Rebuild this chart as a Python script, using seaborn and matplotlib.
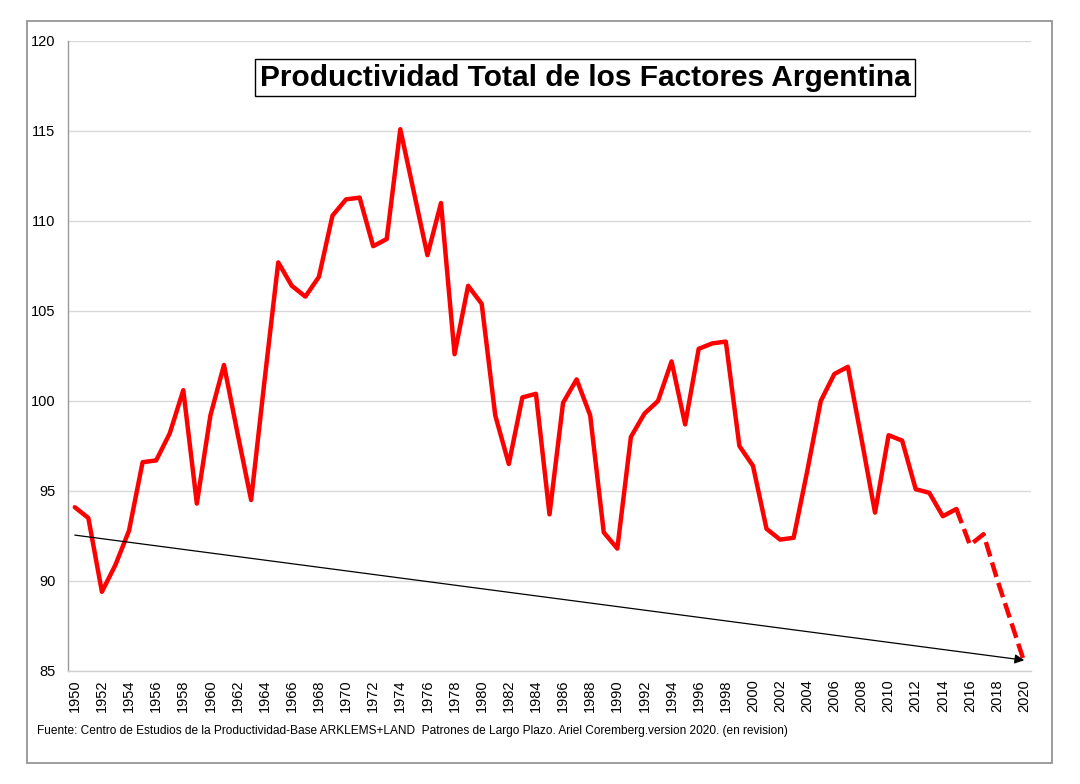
import matplotlib
matplotlib.use("Agg")
import matplotlib.pyplot as plt
from matplotlib.patches import Rectangle
import seaborn as sns
import pandas as pd

# ---- data ----
years_solid = list(range(1950, 2016))
ptf_solid = [94.1, 93.5, 89.4, 90.9, 92.8, 96.6, 96.7, 98.2, 100.6, 94.3,
             99.2, 102.0, 98.2, 94.5, 101.2, 107.7, 106.4, 105.8, 106.9, 110.3,
             111.2, 111.3, 108.6, 109.0, 115.1, 111.6, 108.1, 111.0, 102.6, 106.4,
             105.4, 99.2, 96.5, 100.2, 100.4, 93.7, 99.9, 101.2, 99.2, 92.7,
             91.8, 98.0, 99.3, 100.0, 102.2, 98.7, 102.9, 103.2, 103.3, 97.5,
             96.4, 92.9, 92.3, 92.4, 96.1, 100.0, 101.5, 101.9, 97.9, 93.8,
             98.1, 97.8, 95.1, 94.9, 93.6, 94.0]
years_proj = [2015, 2016, 2017, 2018, 2019, 2020]
ptf_proj = [94.0, 92.0, 92.6, 90.1, 87.8, 85.5]
trend_years = [1950, 2020]
trend_vals = [92.55, 85.6]
ytick_vals = [85, 90, 95, 100, 105, 110, 115, 120]
xtick_vals = list(range(1950, 2021, 2))
title = "Productividad Total de los Factores Argentina"
footer = ("Fuente: Centro de Estudios de la Productividad-Base ARKLEMS+LAND  Patrones de Largo Plazo. "
          "Ariel Coremberg.version 2020. (en revision)")

df_solid = pd.DataFrame({"year": years_solid, "ptf": ptf_solid})
df_proj = pd.DataFrame({"year": years_proj, "ptf": ptf_proj})

sns.set_theme(style="white")
plt.rcParams["font.family"] = ["Liberation Sans", "DejaVu Sans"]
plt.rcParams["text.color"] = "black"

fig = plt.figure(figsize=(10.8, 7.84), dpi=100)
ax = fig.add_axes([68 / 1080, 1 - 671 / 784, (1031 - 68) / 1080, (671 - 41) / 784])

sns.lineplot(data=df_solid, x="year", y="ptf", ax=ax, color="#ff0000", lw=3.2)
sns.lineplot(data=df_proj, x="year", y="ptf", ax=ax, color="#ff0000", lw=3.2,
             dashes=False, linestyle=(0, (3.4, 1.4)))

ax.annotate("", xy=(trend_years[1], trend_vals[1]), xytext=(trend_years[0], trend_vals[0]),
            arrowprops=dict(arrowstyle="-|>", color="black", lw=0.9,
                            mutation_scale=14, shrinkA=0, shrinkB=0))

ax.set_xlim(1949.5, 2020.5)
ax.set_ylim(85, 120)
ax.set_yticks(ytick_vals)
ax.set_yticklabels([str(v) for v in ytick_vals], fontsize=10.5)
ax.set_xticks(xtick_vals)
ax.set_xticklabels([str(v) for v in xtick_vals], rotation=90, fontsize=10.5)
ax.tick_params(axis="both", length=0, pad=6, colors="black", labelcolor="black")
ax.tick_params(axis="y", pad=9)
ax.set_xlabel("")
ax.set_ylabel("")
ax.grid(axis="y", color="#d9d9d9", lw=1)
ax.set_axisbelow(True)
for s in ["top", "right"]:
    ax.spines[s].set_visible(False)
ax.spines["left"].set_color("#999999")
ax.spines["left"].set_linewidth(1)
ax.spines["bottom"].set_color("#d0d0d0")
ax.spines["bottom"].set_linewidth(1)

fig.text(585 / 1080, 1 - 77.5 / 784, title, ha="center", va="center",
         fontsize=21.5, fontweight="bold", color="black",
         bbox=dict(boxstyle="square,pad=0.14", facecolor="white", edgecolor="black", lw=1))

fig.text(37 / 1080, 1 - 731 / 784, footer, ha="left", va="center", fontsize=8.55,
         color="black", family=["Liberation Sans", "DejaVu Sans"])

fig.patches.append(Rectangle((27 / 1080, 1 - 763 / 784), (1052 - 27) / 1080, (763 - 21) / 784,
                             transform=fig.transFigure, fill=False, edgecolor="#8c8c8c", lw=1.2))

fig.savefig("out.png", dpi=100, facecolor="white")
